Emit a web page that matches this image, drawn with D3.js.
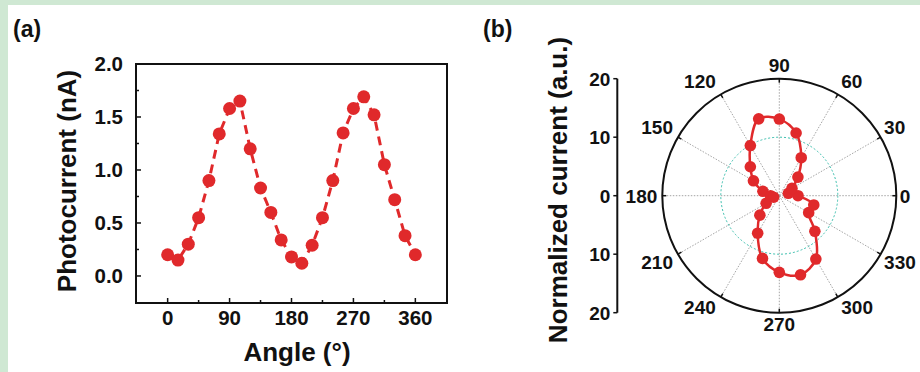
<!DOCTYPE html>
<html>
<head>
<meta charset="utf-8">
<script src="https://cdn.jsdelivr.net/npm/d3@7/dist/d3.min.js"></script>
<style>
  html, body { margin: 0; padding: 0; background: #cfe8d3; }
  svg { display: block; }
  text { font-family: "Liberation Sans", Arial, sans-serif; font-weight: bold; fill: #111; }
</style>
</head>
<body>
<svg id="chart" width="920" height="372"></svg>
<script>
// ---- Panel (a): photocurrent vs polarization angle ----
const angleA = [0, 15, 30, 45, 60, 75, 90, 105, 120, 135, 150, 165, 180,
                195, 210, 225, 240, 255, 270, 285, 300, 315, 330, 345, 360];
const photocurrent = [0.20, 0.15, 0.30, 0.55, 0.90, 1.34, 1.58, 1.65, 1.20, 0.83, 0.60, 0.34, 0.18,
                      0.12, 0.29, 0.55, 0.90, 1.35, 1.58, 1.69, 1.52, 1.05, 0.72, 0.38, 0.20];
const xTicksA = [0, 90, 180, 270, 360];
const yTicksA = [0.0, 0.5, 1.0, 1.5, 2.0];

// ---- Panel (b): normalized current on a polar plot ----
const angleB = [0, 15, 30, 45, 60, 75, 90, 105, 120, 135, 150, 165,
                180, 195, 210, 225, 240, 255, 270, 285, 300, 315, 330, 345];
const normCurrent = [3.2, 1.6, 2.5, 4.5, 7.5, 11.1, 13.1, 13.6, 9.9, 7.0, 5.1, 2.9,
                     1.5, 1.0, 2.6, 4.7, 7.4, 11.1, 13.1, 14.0, 12.5, 8.6, 5.8, 6.1];
const spokeAngles = [0, 30, 60, 90, 120, 150, 180, 210, 240, 270, 300, 330];
const radialTicks = [20, 10, 0, -10, -20];

const RED = "#e0292b";
const svg = d3.select("#chart");

// white page with a thin green margin on the top and left
svg.append("rect").attr("x", 8).attr("y", 5).attr("width", 912).attr("height", 367).attr("fill", "#fff");

// =============== Panel (a) ===============
const x = d3.scaleLinear().domain([-46, 406]).range([136, 447]);
const y = d3.scaleLinear().domain([-0.255, 2.0]).range([303, 64]);

const gA = svg.append("g");

// inward ticks (major + minor) on bottom and left
const xMinor = d3.range(0, 361, 45);
gA.selectAll(".xt").data(xMinor).join("line")
  .attr("x1", d => x(d)).attr("x2", d => x(d))
  .attr("y1", 303).attr("y2", d => 303 - (d % 90 === 0 ? 5 : 3))
  .attr("stroke", "#111").attr("stroke-width", 1.5);
const yMinor = d3.range(0, 2.01, 0.25);
gA.selectAll(".yt").data(yMinor).join("line")
  .attr("y1", d => y(d)).attr("y2", d => y(d))
  .attr("x1", 136).attr("x2", d => 136 + (Math.abs(d * 2 - Math.round(d * 2)) < 1e-6 ? 5 : 3))
  .attr("stroke", "#111").attr("stroke-width", 1.5);

gA.append("rect")
  .attr("x", x.range()[0]).attr("y", y.range()[1])
  .attr("width", x.range()[1] - x.range()[0]).attr("height", y.range()[0] - y.range()[1])
  .attr("fill", "none").attr("stroke", "#111").attr("stroke-width", 2);

gA.selectAll(".xl").data(xTicksA).join("text")
  .attr("x", d => x(d)).attr("y", 325)
  .attr("text-anchor", "middle").attr("font-size", 20.5)
  .text(d => d);
gA.selectAll(".yl").data(yTicksA).join("text")
  .attr("x", 123).attr("y", d => y(d)).attr("dy", "0.36em")
  .attr("text-anchor", "end").attr("font-size", 20.5)
  .text(d => d.toFixed(1));

gA.append("text").attr("x", 297).attr("y", 361).attr("text-anchor", "middle")
  .attr("font-size", 26).text("Angle (°)");
gA.append("text").attr("transform", "translate(76,181) rotate(-90)")
  .attr("text-anchor", "middle").attr("font-size", 26).text("Photocurrent (nA)");

// dashed connecting line and markers
const lineA = d3.line().x((d, i) => x(angleA[i])).y(d => y(d));
gA.append("path").datum(photocurrent).attr("d", lineA)
  .attr("fill", "none").attr("stroke", RED).attr("stroke-width", 3)
  .attr("stroke-dasharray", "9,6");
gA.selectAll(".pt").data(photocurrent).join("circle")
  .attr("cx", (d, i) => x(angleA[i])).attr("cy", d => y(d)).attr("r", 6.5)
  .attr("fill", RED);

svg.append("text").attr("x", 13).attr("y", 37).attr("font-size", 23).text("(a)");
svg.append("text").attr("x", 483).attr("y", 37).attr("font-size", 23).text("(b)");

// =============== Panel (b) ===============
const cx = 779.3, cy = 195.7, R = 117;
const r = d3.scaleLinear().domain([0, 20]).range([0, R]);
const gB = svg.append("g").attr("transform", `translate(${cx},${cy})`);
const rad = a => a * Math.PI / 180;

// spokes every 30 degrees
gB.selectAll(".spoke").data(spokeAngles).join("line")
  .attr("x1", 0).attr("y1", 0)
  .attr("x2", d => R * Math.cos(rad(d))).attr("y2", d => -R * Math.sin(rad(d)))
  .attr("stroke", "#9a9a9a").attr("stroke-width", 0.9).attr("stroke-dasharray", "1.5,1.5");
// inner reference ring
gB.append("circle").attr("r", r(10)).attr("fill", "none")
  .attr("stroke", "#3cbfae").attr("stroke-width", 1).attr("stroke-dasharray", "2,2");
// outer ring with small inward ticks
gB.append("circle").attr("r", R).attr("fill", "none").attr("stroke", "#111").attr("stroke-width", 2);
gB.selectAll(".rt").data(spokeAngles).join("line")
  .attr("x1", d => R * Math.cos(rad(d))).attr("y1", d => -R * Math.sin(rad(d)))
  .attr("x2", d => (R - 4) * Math.cos(rad(d))).attr("y2", d => -(R - 4) * Math.sin(rad(d)))
  .attr("stroke", "#111").attr("stroke-width", 1.5);

// angle labels outside the ring: left/right aligned on the sides, centered top and bottom
gB.selectAll(".al").data(spokeAngles).join("text")
  .attr("font-size", 19).attr("dy", "0.36em")
  .text(d => d)
  .each(function (d) {
    const c = Math.cos(rad(d)), s = Math.sin(rad(d));
    const anchor = c > 0.01 ? "start" : (c < -0.01 ? "end" : "middle");
    const xx = R * c + (c > 0.01 ? 3.5 : (c < -0.01 ? -5 : 0));
    const off = (s > 0 ? 14 : 11) * Math.sqrt(Math.abs(s));
    const yy = -(R * s + Math.sign(s) * off);
    d3.select(this).attr("text-anchor", anchor).attr("x", xx).attr("y", yy);
  });

// radial axis on the left
const yr = d3.scaleLinear().domain([-20, 20]).range([cy + R, cy - R]);
const axX = 617.3;
svg.append("line").attr("x1", axX).attr("x2", axX).attr("y1", yr(20)).attr("y2", yr(-20))
  .attr("stroke", "#111").attr("stroke-width", 2);
svg.selectAll(".rtk").data(radialTicks).join("line")
  .attr("x1", axX - 4).attr("x2", axX).attr("y1", d => yr(d)).attr("y2", d => yr(d))
  .attr("stroke", "#111").attr("stroke-width", 1.5);
svg.selectAll(".rtl").data(radialTicks).join("text")
  .attr("x", axX - 7).attr("y", d => yr(d)).attr("dy", "0.36em")
  .attr("text-anchor", "end").attr("font-size", 19)
  .text(d => Math.abs(d));
svg.append("text").attr("transform", "translate(567,190) rotate(-90)")
  .attr("text-anchor", "middle").attr("font-size", 26).text("Normalized current (a.u.)");

// smooth closed curve through the measurements, then the markers
const lineB = d3.lineRadial()
  .angle((d, i) => Math.PI / 2 - rad(angleB[i]))
  .radius(d => r(d))
  .curve(d3.curveCatmullRomClosed.alpha(0.5));
gB.append("path").datum(normCurrent).attr("d", lineB)
  .attr("fill", "none").attr("stroke", RED).attr("stroke-width", 2.5);
gB.selectAll(".pp").data(normCurrent).join("circle")
  .attr("cx", (d, i) => r(d) * Math.cos(rad(angleB[i])))
  .attr("cy", (d, i) => -r(d) * Math.sin(rad(angleB[i])))
  .attr("r", 5.8).attr("fill", RED);
</script>
</body>
</html>
